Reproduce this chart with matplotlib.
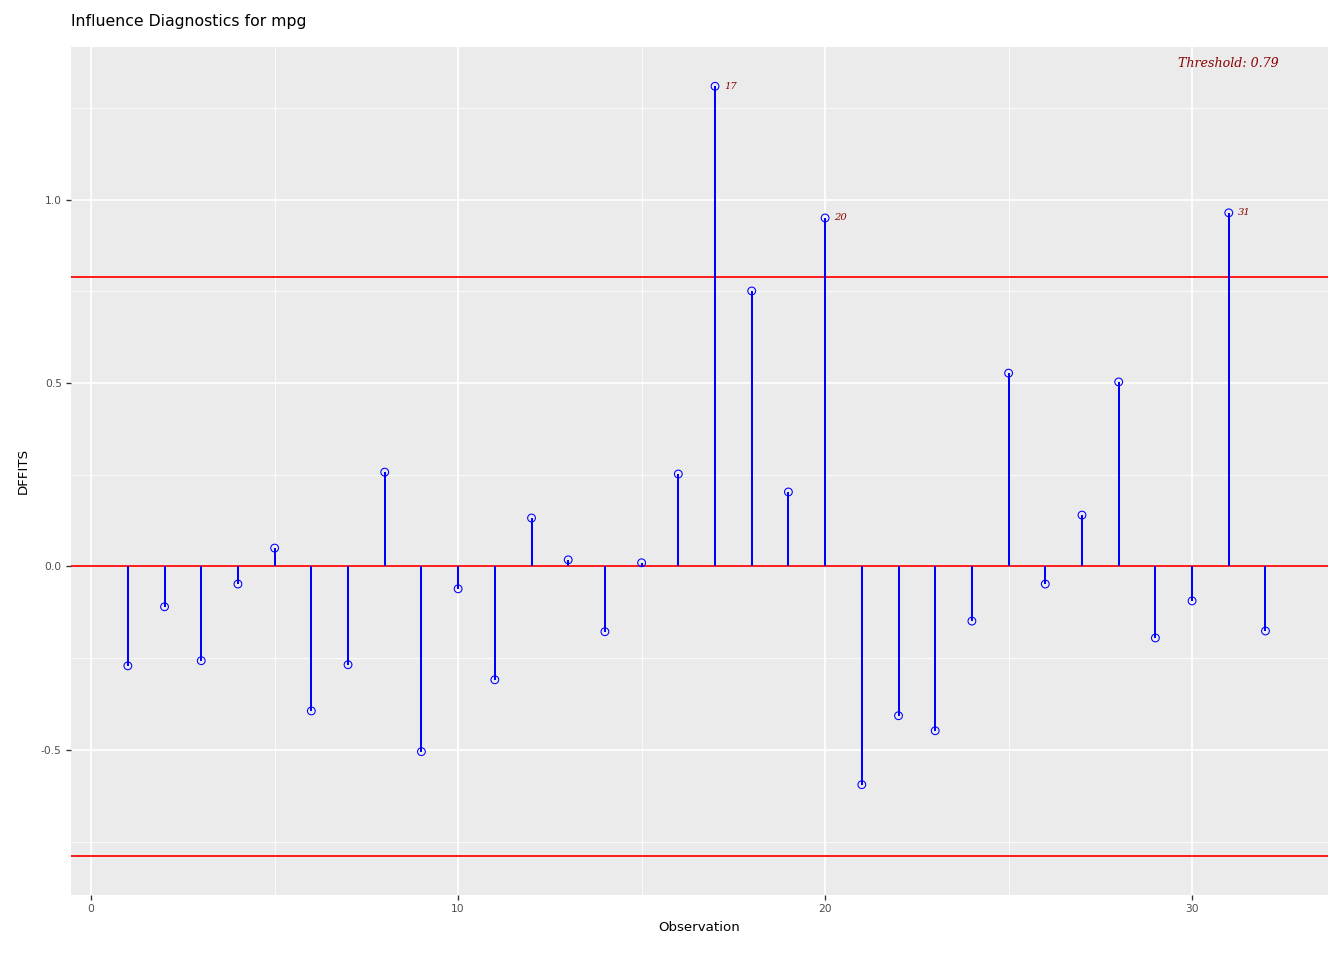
import numpy as np
import matplotlib
matplotlib.use("Agg")
import matplotlib.pyplot as plt
from matplotlib.ticker import MultipleLocator, FuncFormatter

# DFFITS per observation
obs = np.arange(1, 33)
dffits = [-0.271, -0.110, -0.257, -0.048, 0.050, -0.394, -0.268, 0.257,
          -0.505, -0.061, -0.309, 0.132, 0.018, -0.178, 0.010, 0.252,
          1.309, 0.751, 0.203, 0.950, -0.595, -0.407, -0.448, -0.149,
          0.527, -0.048, 0.140, 0.503, -0.195, -0.094, 0.964, -0.176]
threshold = 0.79
flagged = [17, 20, 31]

fig = plt.figure(figsize=(14, 10), dpi=96)
ax = fig.add_axes([0.0528, 0.068, 0.9352, 0.883])
ax.set_facecolor("#EBEBEB")
for s in ax.spines.values():
    s.set_visible(False)

ax.xaxis.set_major_locator(MultipleLocator(10))
ax.xaxis.set_minor_locator(MultipleLocator(5))
ax.yaxis.set_major_locator(MultipleLocator(0.5))
ax.yaxis.set_minor_locator(MultipleLocator(0.25))
ax.grid(which="major", color="white", lw=1.3)
ax.grid(which="minor", color="white", lw=0.6)
ax.set_axisbelow(True)

for h in (0, threshold, -threshold):
    ax.axhline(h, color="red", lw=1.3, zorder=2)

ax.vlines(obs, 0, dffits, color="blue", lw=1.5, zorder=3)
ax.scatter(obs, dffits, s=34, facecolors="none", edgecolors="blue", lw=0.8, zorder=4)

for o in flagged:
    v = dffits[o - 1]
    ax.text(o + 0.25, v, str(o), fontsize=7.5, color="#8B0000", style="italic",
            family="DejaVu Serif", va="center", ha="left")

ax.text(31, 1.372, f"Threshold: {threshold}", fontsize=9.5, color="#8B0000",
        style="italic", family="DejaVu Serif", va="center", ha="center")

ax.set_xlim(-0.55, 33.7)
ax.set_ylim(-0.895, 1.416)
ax.yaxis.set_major_formatter(FuncFormatter(lambda v, p: f"{v:.1f}"))
ax.tick_params(which="major", length=4, width=1, color="#333333", labelsize=8,
               labelcolor="#4D4D4D", pad=3)
ax.tick_params(which="minor", length=0)

ax.set_xlabel("Observation", fontsize=10, labelpad=5)
ax.set_ylabel("DFFITS", fontsize=10, labelpad=8)
fig.text(0.0528, 0.978, "Influence Diagnostics for mpg", fontsize=11.8, ha="left", va="center")

fig.savefig("out.png", dpi=96)
